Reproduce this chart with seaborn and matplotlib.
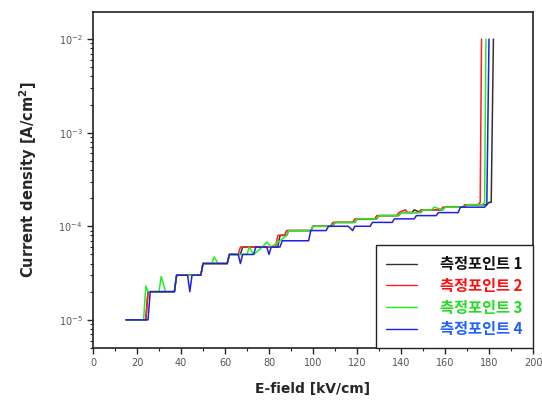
import pandas as pd
import numpy as np
import matplotlib
matplotlib.use("Agg")
import matplotlib.pyplot as plt
import seaborn as sns
from matplotlib.lines import Line2D
from matplotlib.ticker import MultipleLocator, LogLocator, NullFormatter

# current density values in units of 1e-5 A/cm^2, E-field in kV/cm
unit = 1e-5

x1 = [15, 24, 25, 37, 38, 49, 50, 61, 62, 67, 68, 76, 77, 84, 85, 88, 89, 99, 100,
      109, 110, 119, 120, 129, 130, 139, 140, 145, 146, 149, 150, 159, 160, 169, 170, 179, 180, 181, 182]
y1 = [1, 1, 2, 2, 3, 3, 4, 4, 5, 5, 6, 6, 6, 6, 8, 8, 9, 9, 10,
      10, 11, 11, 12, 12, 13, 13, 14, 14, 15, 14, 15, 15, 16, 16, 17, 17, 18, 18, 1000]

x2 = [15, 24, 25, 37, 38, 49, 50, 61, 62, 66, 67, 75, 76, 83, 84, 87, 88, 99, 100,
      108, 109, 118, 119, 128, 129, 138, 139, 142, 143, 148, 149, 158, 159, 168, 169, 175, 176, 176.6]
y2 = [1, 1, 2, 2, 3, 3, 4, 4, 5, 5, 6, 6, 6, 6, 8, 8, 9, 9, 10,
      10, 11, 11, 12, 12, 13, 13, 14, 15, 14, 14, 15, 15, 16, 16, 17, 17, 18, 1000]

x3 = [15, 23, 24, 25, 30, 31, 33, 37, 38, 49, 50, 54, 55, 57, 61, 62, 70, 71, 73, 77, 79, 81,
      85, 88, 89, 99, 100, 109, 110, 119, 120, 129, 130, 139, 140, 149, 150, 154, 155, 159, 160,
      169, 170, 177, 178, 178.6]
y3 = [1, 1, 2.3, 2, 2, 2.9, 2, 2, 3, 3, 4, 4, 4.7, 4, 4, 5, 5, 6, 5, 6, 6.8, 6,
      7, 8, 9, 9, 10, 10, 11, 11, 12, 12, 13, 13, 14, 14, 15, 15, 16, 15, 16,
      16, 17, 17, 18, 1000]

x4 = [15, 25, 26, 37, 38, 43, 44, 45, 49, 50, 61, 62, 66, 67, 68, 73, 74, 79, 80, 81, 85, 86,
      98, 99, 106, 107, 116, 117, 118, 119, 126, 127, 136, 137, 146, 147, 156, 157, 166, 167,
      178, 179, 180]
y4 = [1, 1, 2, 2, 3, 3, 2, 3, 3, 4, 4, 5, 5, 4, 5, 5, 6, 6, 5, 6, 6, 7,
      7, 9, 9, 10, 10, 9.5, 9, 10, 10, 11, 11, 12, 12, 13, 13, 14, 14, 16,
      16, 17, 1000]

labels = ["측정포인트 1", "측정포인트 2", "측정포인트 3", "측정포인트 4"]
colors = ["#333333", "#ff2020", "#22ee22", "#2020dd"]
text_colors = ["#111111", "#ff1010", "#22dd22", "#2060ff"]

frames = []
for lab, xs, ys in zip(labels, [x1, x2, x3, x4], [y1, y2, y3, y4]):
    frames.append(pd.DataFrame({"E": xs, "J": np.array(ys) * unit, "point": lab}))
df = pd.concat(frames, ignore_index=True)

sns.set_style("white")
plt.rcParams["font.family"] = ["DejaVu Sans"]

fig = plt.figure(figsize=(5.42, 4.12), dpi=100)
ax = fig.add_axes([0.1716, 0.1553, 0.8118, 0.8156])

sns.lineplot(data=df, x="E", y="J", hue="point", palette=colors, sort=False,
             estimator=None, units="point", linewidth=1.1, ax=ax, legend=False)

ax.set_yscale("log")
ax.set_xlim(0, 200)
ax.set_ylim(5e-6, 1.95e-2)
ax.xaxis.set_major_locator(MultipleLocator(20))
ax.xaxis.set_minor_locator(MultipleLocator(10))
ax.yaxis.set_major_locator(LogLocator(base=10, numticks=10))
ax.yaxis.set_minor_locator(LogLocator(base=10, subs=np.arange(2, 10), numticks=20))
ax.yaxis.set_minor_formatter(NullFormatter())

for s in ax.spines.values():
    s.set_color("#222222")
    s.set_linewidth(1.2)

ax.tick_params(axis="both", which="major", direction="out", length=4, width=1,
               labelsize=7, labelcolor="#555555", bottom=True, left=True)
ax.tick_params(axis="both", which="minor", direction="out", length=2.5, width=0.8,
               bottom=True, left=True)

ax.set_xlabel("E-field [kV/cm]", fontsize=10, fontweight="bold", labelpad=10)
ax.set_ylabel("Current density [A/cm$^\\mathbf{2}$]", fontsize=10.5, fontweight="bold", labelpad=14)

handles = [Line2D([0], [0], color=c, linewidth=1.0) for c in colors]
leg = ax.legend(handles, labels, loc="lower right", bbox_to_anchor=(1.0, 0.0),
                frameon=True, fancybox=False, framealpha=1, edgecolor="#222222",
                handlelength=2.0, handletextpad=1.5, labelspacing=0.38,
                borderpad=0.7, borderaxespad=0.0,
                prop={"family": ["Noto Sans CJK KR", "DejaVu Sans"], "weight": "bold", "size": 11})
leg.get_frame().set_linewidth(1.0)
for t, c in zip(leg.get_texts(), text_colors):
    t.set_color(c)

fig.savefig("out.png", dpi=100)
